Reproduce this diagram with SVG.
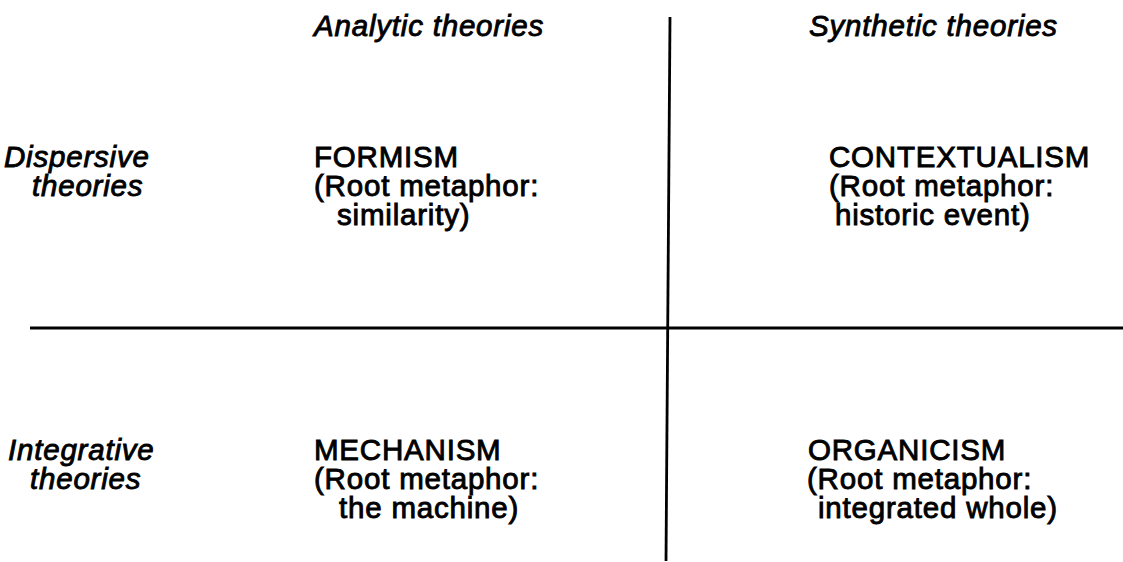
<svg xmlns="http://www.w3.org/2000/svg" width="1123" height="562" viewBox="0 0 1123 562">
<style>
.t{font-family:"Liberation Sans",Arial,sans-serif;font-size:29.5px;letter-spacing:0.8px;fill:#000;stroke:#000;stroke-width:0.9}
.i{font-style:italic}
.ln{stroke:#000;stroke-width:2.8;fill:none}
</style>
<rect width="1123" height="562" fill="#fff"/>
<g id="connectors">
<line class="ln" x1="670" y1="17" x2="666" y2="561"/>
<line class="ln" x1="30" y1="328" x2="1123" y2="328"/>
</g>
<g id="col-analytic"><text class="t i" x="314" y="36">Analytic theories</text></g>
<g id="col-synthetic"><text class="t i" x="809" y="36">Synthetic theories</text></g>
<g id="row-dispersive"><text class="t i" x="4" y="167">Dispersive</text><text class="t i" x="32" y="196">theories</text></g>
<g id="row-integrative"><text class="t i" x="8" y="460">Integrative</text><text class="t i" x="30" y="489">theories</text></g>
<g id="formism"><text class="t" x="314" y="167">FORMISM</text><text class="t" x="314" y="196">(Root metaphor:</text><text class="t" x="337" y="225">similarity)</text></g>
<g id="contextualism"><text class="t" x="829" y="167">CONTEXTUALISM</text><text class="t" x="829" y="196">(Root metaphor:</text><text class="t" x="835" y="225">historic event)</text></g>
<g id="mechanism"><text class="t" x="314" y="460">MECHANISM</text><text class="t" x="314" y="489">(Root metaphor:</text><text class="t" x="339" y="518">the machine)</text></g>
<g id="organicism"><text class="t" x="808" y="460">ORGANICISM</text><text class="t" x="807" y="489">(Root metaphor:</text><text class="t" x="818" y="518">integrated whole)</text></g>
</svg>
